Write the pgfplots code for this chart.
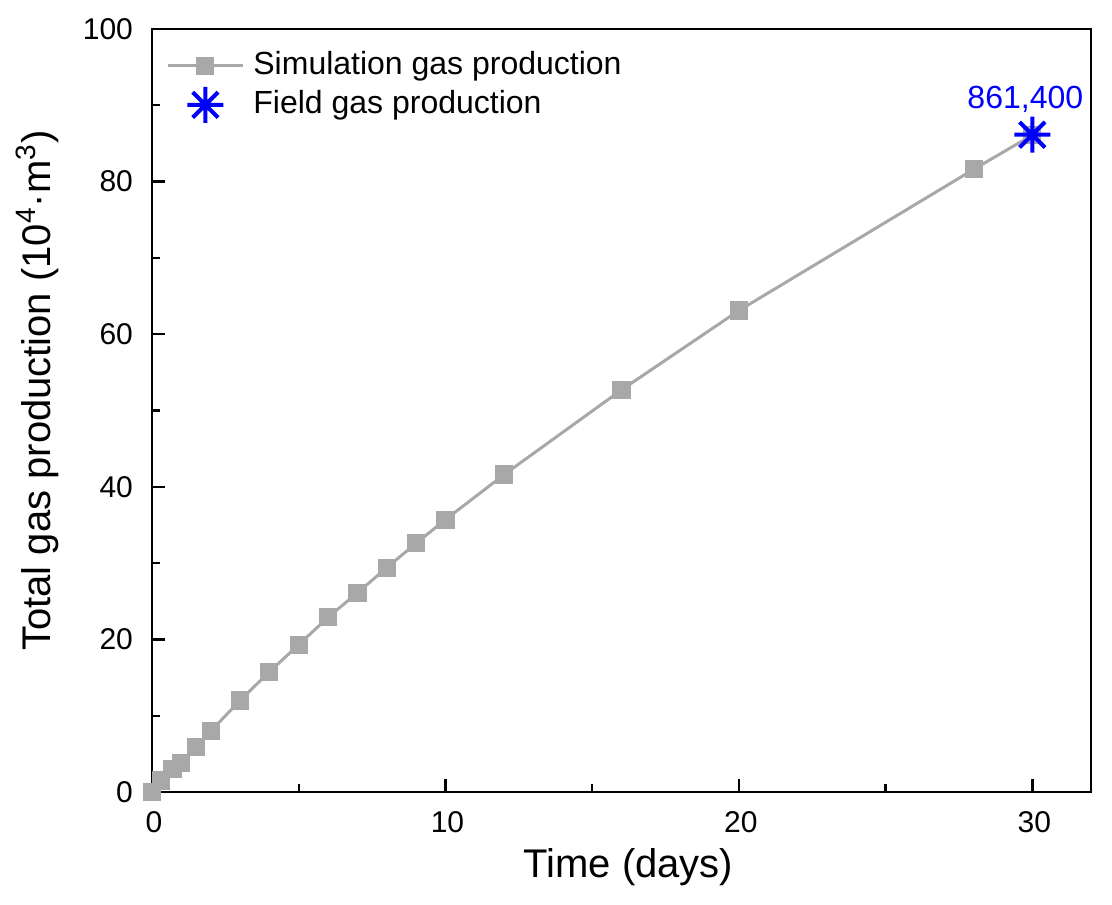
\documentclass[border=0pt]{standalone}
\usepackage{fontspec}
\setmainfont{Liberation Sans}
\usepackage{pgfplots}
\pgfplotsset{compat=1.18}
\definecolor{simgray}{RGB}{168,168,168}
\definecolor{fieldblue}{RGB}{0,0,255}
\pgfdeclareplotmark{ast8}{%
  \pgfpathmoveto{\pgfqpoint{-\pgfplotmarksize}{0pt}}\pgfpathlineto{\pgfqpoint{\pgfplotmarksize}{0pt}}%
  \pgfpathmoveto{\pgfqpoint{0pt}{-\pgfplotmarksize}}\pgfpathlineto{\pgfqpoint{0pt}{\pgfplotmarksize}}%
  \pgfpathmoveto{\pgfqpoint{-0.7071\pgfplotmarksize}{-0.7071\pgfplotmarksize}}\pgfpathlineto{\pgfqpoint{0.7071\pgfplotmarksize}{0.7071\pgfplotmarksize}}%
  \pgfpathmoveto{\pgfqpoint{-0.7071\pgfplotmarksize}{0.7071\pgfplotmarksize}}\pgfpathlineto{\pgfqpoint{0.7071\pgfplotmarksize}{-0.7071\pgfplotmarksize}}%
  \pgfusepathqstroke}
\pgfplotstableread{
x y
0 0
0.3 1.5
0.7 3.0
1 3.8
1.5 5.9
2 7.97
3 12.0
4 15.75
5 19.3
6 22.9
7 26.1
8 29.4
9 32.6
10 35.7
12 41.6
16 52.7
20 63.1
28 81.6
30 86.1
}\simdata
\pgfplotstableread{
x y
30 86.14
}\fielddata
\begin{document}
\begin{tikzpicture}
\begin{axis}[
  scale only axis, width=469.5pt, height=381.5pt,
  xmin=0, xmax=32, ymin=0, ymax=100,
  xtick={0,10,20,30}, minor xtick={5,15,25},
  ytick={0,20,40,60,80,100}, minor ytick={10,30,50,70,90},
  tick pos=left, tick align=inside,
  major tick length=6.5pt, minor tick length=4pt,
  axis line style={line width=1.2pt},
  tick style={black, line width=1.2pt},
  /pgf/number format/assume math mode=true,
  ticklabel style={font=\fontsize{15}{18}\selectfont},
  yticklabel style={xshift=-6pt},
  xticklabel style={yshift=-6pt, xshift=1pt},
  xlabel={Time (days)},
  ylabel={Total gas production (10\textsuperscript{4}·m\textsuperscript{3})},
  every axis x label/.style={at={(axis description cs:0.5,0)}, anchor=center, yshift=-37.5pt, xshift=3.5pt, font=\fontsize{20}{24}\selectfont},
  every axis y label/.style={at={(axis description cs:-0.1225,0.526)}, anchor=center, rotate=90, font=\fontsize{20}{24}\selectfont},
  clip=false,
  legend style={at={(axis description cs:0,1)}, anchor=north west, xshift=7pt, yshift=-8.5pt,
    draw=none, fill=none, inner sep=0pt, font=\fontsize{16}{18}\selectfont,
    nodes={text height=12pt, text depth=3.5pt, inner sep=2pt},
    /tikz/every odd column/.append style={column sep=2.5pt}},
  legend cell align=left,
]
\addplot[color=simgray, line width=1.5pt, mark=square*, mark size=4.3pt,
  mark options={fill=simgray, draw=simgray, line width=0pt},
  legend image code/.code={\draw[mark repeat=2, mark phase=2] plot coordinates {(0pt,0pt) (18.75pt,0pt) (37.5pt,0pt)};}]
  table[x=x,y=y]{\simdata};
\addlegendentry{Simulation gas production}
\addplot[only marks, color=fieldblue, mark=ast8, mark size=9pt, mark options={line width=2pt},
  legend image code/.code={\draw plot coordinates {(18.75pt,0pt)};}]
  table[x=x,y=y]{\fielddata};
\addlegendentry{Field gas production}
\node[text=fieldblue, font=\fontsize{16}{18}\selectfont, anchor=center] at (axis cs:30,86.14) [xshift=-3.5pt, yshift=17.5pt] {861,400};
\end{axis}
\pgfresetboundingbox
\path ([shift={(-76pt,-56pt)}]current axis.south west) rectangle ([shift={(10.5pt,14.5pt)}]current axis.north east);
\end{tikzpicture}
\end{document}
